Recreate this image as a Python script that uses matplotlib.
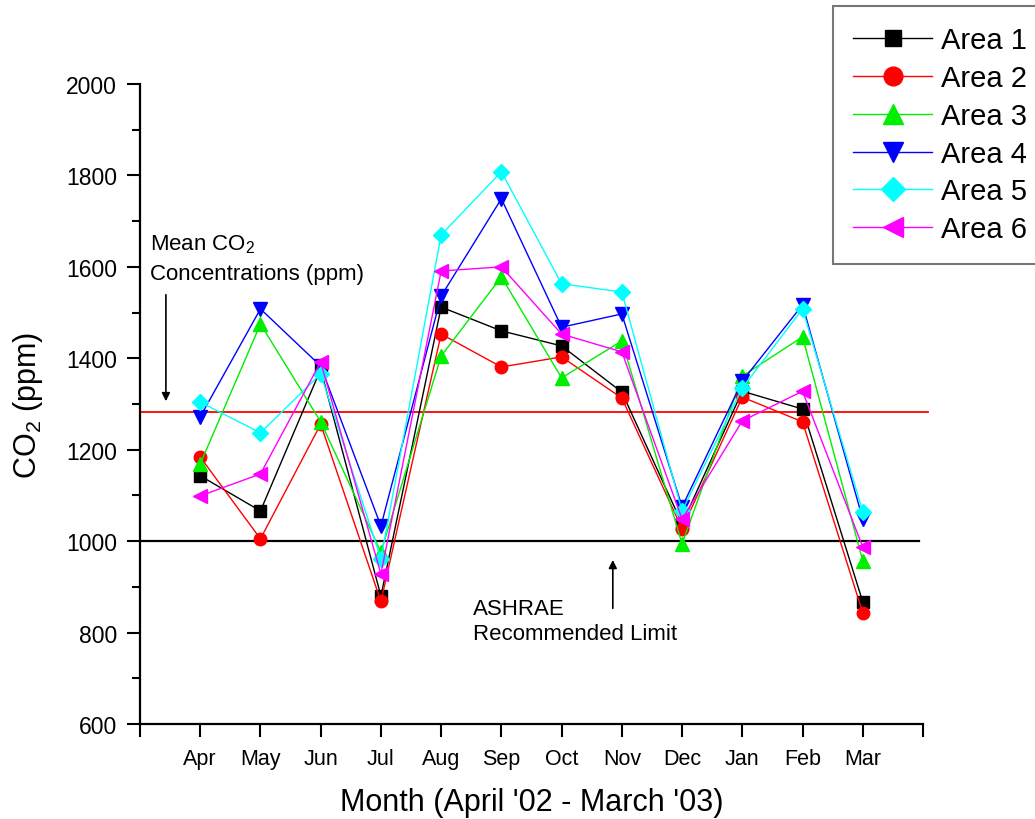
import matplotlib
matplotlib.use("Agg")
import matplotlib.pyplot as plt
from matplotlib.ticker import MultipleLocator

plt.rcParams["font.family"] = ["Liberation Sans", "DejaVu Sans"]
plt.rcParams["mathtext.default"] = "regular"

months = ["Apr", "May", "Jun", "Jul", "Aug", "Sep", "Oct", "Nov", "Dec", "Jan", "Feb", "Mar"]
area1 = [1143, 1066, 1376, 880, 1512, 1460, 1427, 1326, 1038, 1328, 1289, 867]
area2 = [1184, 1005, 1256, 868, 1453, 1381, 1403, 1313, 1027, 1315, 1261, 843]
area3 = [1169, 1475, 1261, 976, 1405, 1578, 1357, 1438, 994, 1361, 1447, 957]
area4 = [1272, 1508, 1383, 1033, 1536, 1749, 1468, 1497, 1075, 1350, 1517, 1048]
area5 = [1304, 1237, 1366, 961, 1670, 1808, 1563, 1545, 1066, 1335, 1508, 1064]
area6 = [1099, 1147, 1392, 928, 1591, 1600, 1453, 1414, 1048, 1263, 1328, 987]
mean_level = 1283
ashrae_limit = 1000

series = [
    ("Area 1", area1, "black", "s", 8),
    ("Area 2", area2, "red", "o", 9),
    ("Area 3", area3, "#00ee00", "^", 10),
    ("Area 4", area4, "blue", "v", 10),
    ("Area 5", area5, "cyan", "D", 8),
    ("Area 6", area6, "magenta", "<", 10),
]

fig = plt.figure(figsize=(10.35, 8.2), dpi=100)
ax = fig.add_axes([140 / 1035, 1 - 725 / 820, 783 / 1035, 640 / 820])

x = list(range(1, len(months) + 1))
for label, vals, color, marker, ms in series:
    ax.plot(x, vals, color=color, marker=marker, markersize=ms, linewidth=1.0,
            label=label, clip_on=False)

ax.axhline(mean_level, xmin=0, xmax=1.006, color="red", linewidth=1.3, clip_on=False, zorder=1)
ax.axhline(ashrae_limit, xmin=0, xmax=0.995, color="black", linewidth=1.6, zorder=1)

ax.set_xlim(0, 13)
ax.set_ylim(600, 2000)
ax.set_xticks(range(0, 14))
ax.set_xticklabels([""] + months + [""], fontsize=15.5)
ax.yaxis.set_major_locator(MultipleLocator(200))
ax.yaxis.set_minor_locator(MultipleLocator(100))
ax.tick_params(axis="y", labelsize=16.5, pad=7)
ax.tick_params(which="major", direction="out", length=9.5, width=1.5)
ax.tick_params(which="minor", direction="out", length=6, width=1.5)
ax.tick_params(axis="x", pad=8)

for side in ["top", "right"]:
    ax.spines[side].set_visible(False)
for side in ["left", "bottom"]:
    ax.spines[side].set_linewidth(1.6)

ax.set_xlabel("Month (April '02 - March '03)", fontsize=22, labelpad=13)
ax.set_ylabel("CO$_2$ (ppm)", fontsize=22, labelpad=15)

# annotations
ax.text(0.17, 1639, "Mean CO$_2$", fontsize=16, va="baseline")
ax.text(0.17, 1573, "Concentrations (ppm)", fontsize=16, va="baseline")
ax.annotate("", xy=(0.43, 1300), xytext=(0.43, 1545),
            arrowprops=dict(arrowstyle="-|>", color="black", lw=1.2, mutation_scale=12))
ax.text(5.53, 841, "ASHRAE", fontsize=16, va="baseline")
ax.text(5.53, 786, "Recommended Limit", fontsize=16, va="baseline")
ax.annotate("", xy=(7.85, 965), xytext=(7.85, 847),
            arrowprops=dict(arrowstyle="-|>", color="black", lw=1.2, mutation_scale=12))

leg = fig.legend(loc="upper left", bbox_to_anchor=(833 / 1035, 1 - 7 / 820),
                 fontsize=21, markerscale=1.5, handlelength=2.7, handletextpad=0.3,
                 labelspacing=0.335, borderpad=0.7, borderaxespad=0, fancybox=False)
leg.get_frame().set_edgecolor("#555555")
leg.get_frame().set_linewidth(1.5)

fig.savefig("out.png", dpi=100)
